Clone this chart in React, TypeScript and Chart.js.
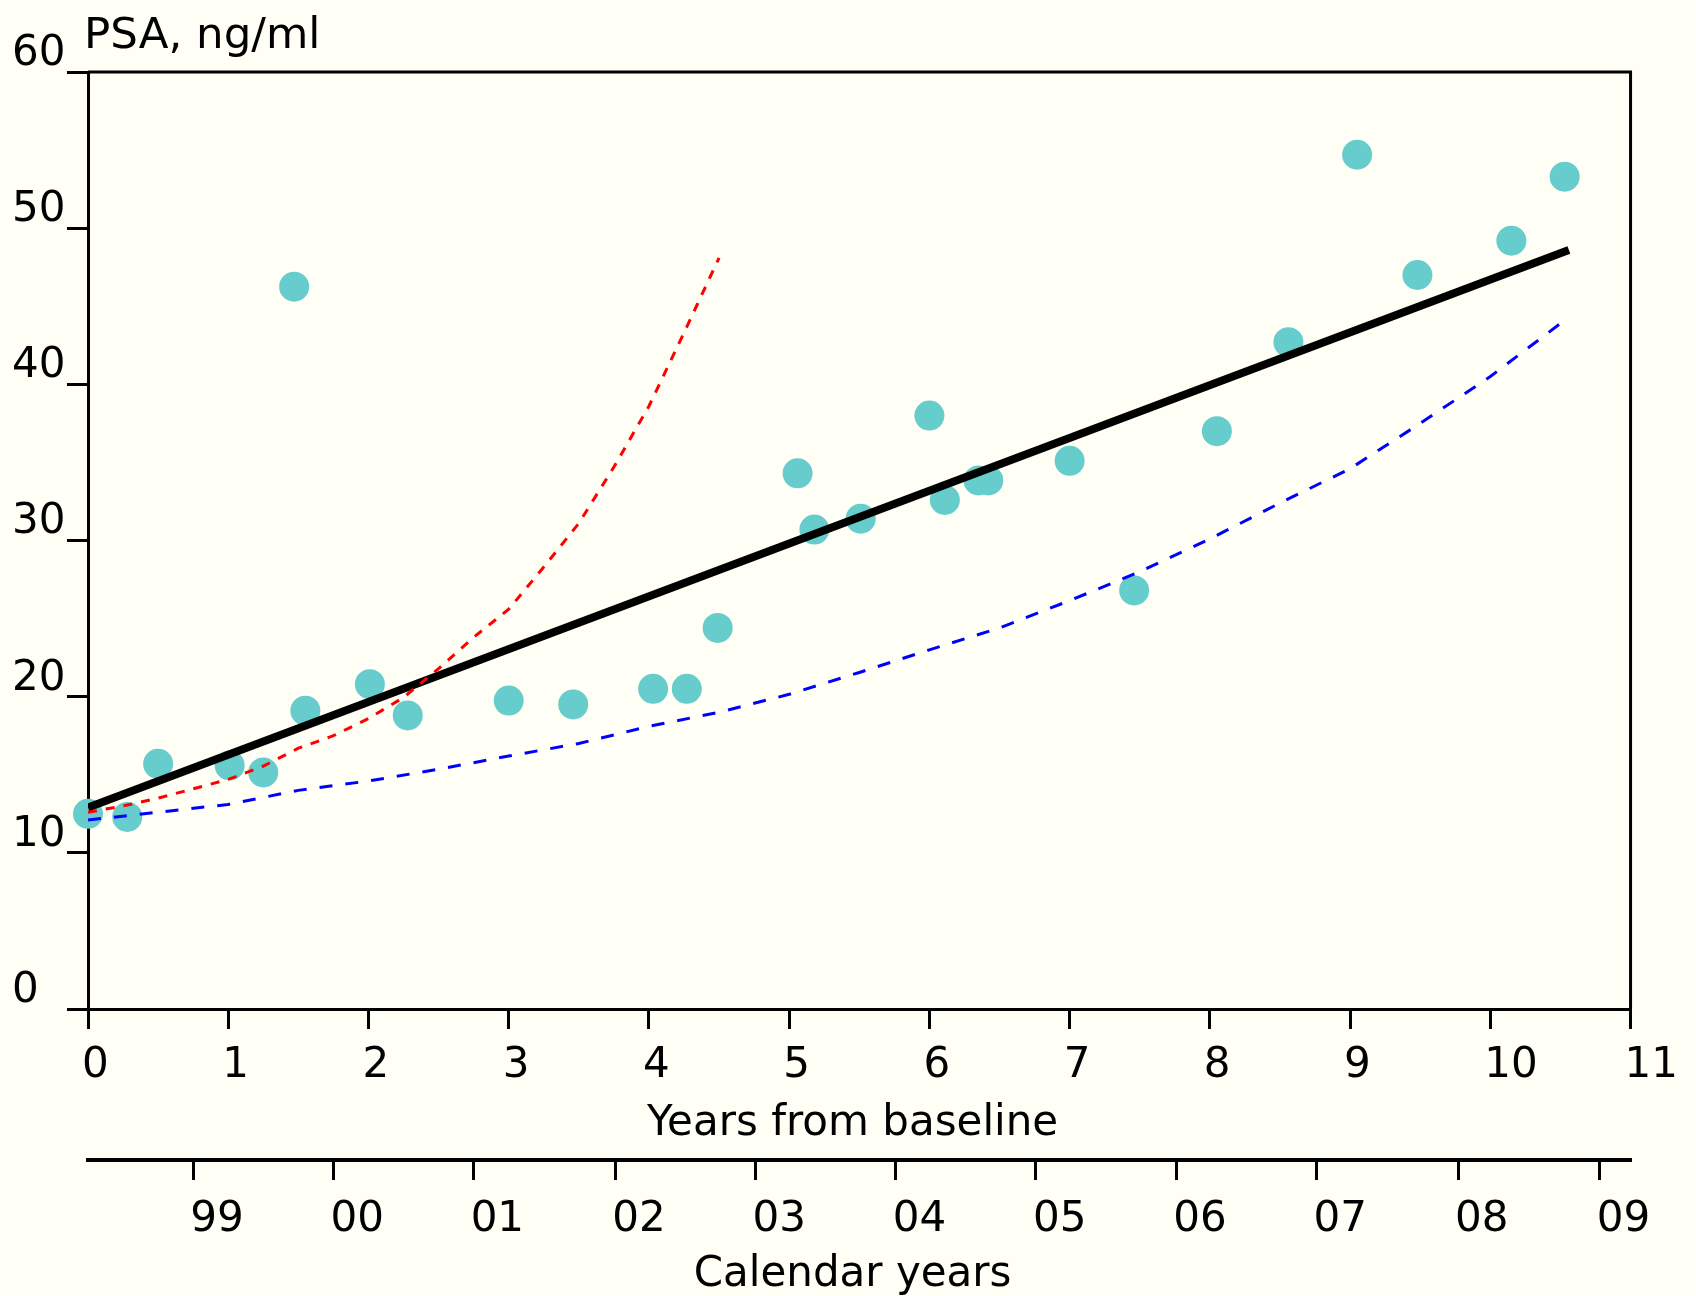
import React, { useEffect, useRef } from "react";
import { Chart, registerables } from "chart.js";

Chart.register(...registerables);

// Observed PSA values (years from baseline, ng/ml)
const obsYears = [0, 0.28, 0.5, 1.01, 1.25, 1.47, 1.55, 2.01, 2.28, 3.0, 3.46, 4.03, 4.27, 4.49, 5.06, 5.18, 5.51, 6.0, 6.11, 6.35, 6.42, 7.0, 7.46, 8.05, 8.56, 9.05, 9.48, 10.15, 10.53];
const obsPSA = [12.5, 12.3, 15.7, 15.6, 15.15, 46.25, 19.1, 20.8, 18.8, 19.75, 19.5, 20.5, 20.5, 24.4, 34.3, 30.7, 31.4, 38.0, 32.6, 33.85, 33.85, 35.1, 26.8, 37.0, 42.7, 54.7, 47.0, 49.2, 53.3];

// Fitted straight line (black)
const fitYears = [0, 10.56];
const fitPSA = [12.9, 48.6];

// Red dashed curve
const redYears = [0, 0.25, 0.5, 0.75, 1.0, 1.25, 1.5, 1.75, 2.0, 2.25, 2.5, 2.75, 3.0, 3.25, 3.5, 3.75, 4.0, 4.25, 4.5];
const redPSA = [12.6, 13.0, 13.5, 14.1, 14.7, 15.55, 16.7, 17.5, 18.6, 19.95, 21.8, 23.8, 25.6, 28.3, 31.1, 34.7, 38.6, 43.3, 48.1];

// Blue dashed curve
const blueYears = [0, 0.5, 1.0, 1.5, 2.0, 2.5, 3.0, 3.5, 4.0, 4.5, 5.0, 5.5, 6.0, 6.5, 7.0, 7.5, 8.0, 8.5, 9.0, 9.5, 10.0, 10.53];
const bluePSA = [12.1, 12.6, 13.1, 14.0, 14.6, 15.35, 16.2, 17.0, 18.1, 19.0, 20.15, 21.55, 23.0, 24.4, 26.15, 28.0, 30.1, 32.4, 34.6, 37.5, 40.5, 44.1];

// Calendar-year axis
const calTickPos = [0.75, 1.75, 2.75, 3.76, 4.76, 5.76, 6.76, 7.76, 8.76, 9.77, 10.78];
const calTickLabels = ["99", "00", "01", "02", "03", "04", "05", "06", "07", "08", "09"];

const FONT = "'DejaVu Sans', Verdana, sans-serif";
const BG = "#FFFFF5";
const INK = "#000000";

const pts = (xs: number[], ys: number[]) => xs.map((x, i) => ({ x, y: ys[i] }));

const bgPlugin = {
  id: "bg",
  beforeDraw(chart: any) {
    const { ctx, width, height } = chart;
    ctx.save();
    ctx.fillStyle = BG;
    ctx.fillRect(0, 0, width, height);
    ctx.restore();
  },
};

const framePlugin = {
  id: "frame",
  afterDraw(chart: any) {
    const { ctx, chartArea } = chart;
    const { left, right, top, bottom } = chartArea;
    ctx.save();
    ctx.strokeStyle = INK;
    ctx.lineWidth = 3;
    ctx.beginPath();
    ctx.moveTo(left, top);
    ctx.lineTo(right, top);
    ctx.lineTo(right, bottom);
    ctx.stroke();
    ctx.fillStyle = INK;
    ctx.font = `43.5px ${FONT}`;
    ctx.textAlign = "left";
    ctx.textBaseline = "alphabetic";
    ctx.fillText("PSA, ng/ml", left - 4, top - 24);
    ctx.restore();
  },
};

export default function App() {
  const ref = useRef<HTMLCanvasElement>(null);

  useEffect(() => {
    if (!ref.current) return;
    const tickFont = { family: FONT, size: 42 };
    const titleFont = { family: FONT, size: 42 };
    const chart = new Chart(ref.current, {
      type: "scatter",
      data: {
        datasets: [
          {
            label: "red",
            data: pts(redYears, redPSA),
            showLine: true,
            borderColor: "#FF0000",
            borderWidth: 3,
            borderDash: [9, 9],
            pointRadius: 0,
            fill: false,
            xAxisID: "x",
            yAxisID: "y",
          },
          {
            label: "blue",
            data: pts(blueYears, bluePSA),
            showLine: true,
            borderColor: "#0000FF",
            borderWidth: 3,
            borderDash: [13, 13],
            pointRadius: 0,
            fill: false,
            xAxisID: "x",
            yAxisID: "y",
          },
          {
            label: "fit",
            data: pts(fitYears, fitPSA),
            showLine: true,
            borderColor: "#000000",
            borderWidth: 8,
            pointRadius: 0,
            fill: false,
            xAxisID: "x",
            yAxisID: "y",
          },
          {
            label: "PSA",
            data: pts(obsYears, obsPSA),
            showLine: false,
            pointRadius: 15,
            pointStyle: "circle",
            backgroundColor: "#66CCCC",
            borderWidth: 0,
            clip: false,
            xAxisID: "x",
            yAxisID: "y",
          },
        ],
      },
      options: {
        responsive: false,
        animation: false,
        events: [],
        layout: { autoPadding: false, padding: { left: 12, right: 63, top: 72, bottom: 0 } },
        plugins: {
          legend: { display: false },
          tooltip: { enabled: false },
          title: { display: false },
        },
        scales: {
          x: {
            type: "linear",
            position: "bottom",
            min: 0,
            max: 11,
            weight: 0,
            ticks: {
              stepSize: 1,
              align: "start",
              labelOffset: -6,
              padding: 12,
              color: INK,
              font: tickFont,
              maxRotation: 0,
              autoSkip: false,
            },
            grid: {
              drawOnChartArea: false,
              drawTicks: true,
              tickLength: 20,
              tickWidth: 3,
              tickColor: INK,
              color: INK,
              lineWidth: 3,
            },
            border: { display: true, color: INK, width: 3 },
            title: {
              display: true,
              text: "Years from baseline ",
              color: INK,
              font: titleFont,
              padding: { top: 0, bottom: 11 },
            },
            afterFit: (s: any) => {
              s.height = 151;
            },
          },
          x2: {
            type: "linear",
            position: "bottom",
            min: 0,
            max: 11,
            weight: 1,
            afterBuildTicks: (s: any) => {
              s.ticks = calTickPos.map((v) => ({ value: v }));
            },
            ticks: {
              align: "start",
              labelOffset: -3,
              padding: 15,
              color: INK,
              font: tickFont,
              maxRotation: 0,
              autoSkip: false,
              callback: (_v: any, i: number) => calTickLabels[i],
            },
            grid: {
              drawOnChartArea: false,
              drawTicks: true,
              tickLength: 20,
              tickWidth: 3,
              tickColor: INK,
              color: INK,
              lineWidth: 3,
            },
            border: { display: true, color: INK, width: 4 },
            title: {
              display: true,
              text: "Calendar years ",
              color: INK,
              font: { family: FONT, size: 42, lineHeight: 1.0 },
              padding: { top: 0, bottom: 0 },
            },
            afterFit: (s: any) => {
              s.height = 136;
            },
          },
          y: {
            type: "linear",
            position: "left",
            min: 0,
            max: 60,
            ticks: {
              stepSize: 10,
              crossAlign: "far",
              labelOffset: -18,
              padding: 0,
              color: INK,
              font: tickFont,
            },
            grid: {
              drawOnChartArea: false,
              drawTicks: true,
              tickLength: 21,
              tickWidth: 3,
              tickColor: INK,
              color: INK,
              lineWidth: 3,
            },
            border: { display: true, color: INK, width: 3 },
            afterFit: (s: any) => {
              s.width = 76;
            },
          },
        },
      } as any,
      plugins: [bgPlugin, framePlugin],
    });
    return () => chart.destroy();
  }, []);

  return (
    <div
      style={{
        position: "fixed",
        left: 0,
        top: 0,
        width: 1696,
        height: 1296,
        background: BG,
      }}
    >
      <canvas
        ref={ref}
        width={1696}
        height={1296}
        style={{ width: 1696, height: 1296, display: "block" }}
      />
    </div>
  );
}
